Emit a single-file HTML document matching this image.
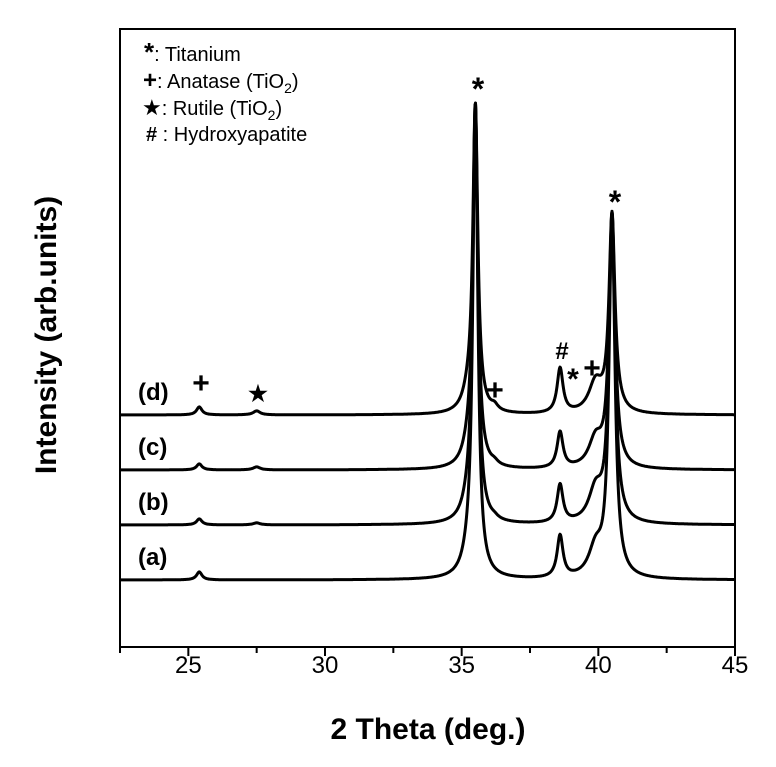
<!DOCTYPE html>
<html><head><meta charset="utf-8"><style>
body{margin:0;background:#fff;}
svg{display:block;font-family:"Liberation Sans",Arial,sans-serif;}
</style></head><body>
<svg id="chart" width="776" height="767" viewBox="0 0 776 767" xmlns="http://www.w3.org/2000/svg">
<rect x="120" y="29" width="615" height="618" fill="none" stroke="#000" stroke-width="2"/>
<g id="ticks"></g>
<g id="traces"></g>
<g font-size="20" fill="#000">
<text x="144" y="61"><tspan font-weight="bold" font-size="26">*</tspan>: Titanium</text>
<text x="143" y="88"><tspan font-weight="bold" font-size="24">+</tspan>: Anatase (TiO<tspan font-size="14" dy="5">2</tspan><tspan dy="-5">)</tspan></text>
<text x="142" y="115"><tspan font-size="22">★</tspan>: Rutile (TiO<tspan font-size="14" dy="5">2</tspan><tspan dy="-5">)</tspan></text>
<text x="146" y="141"><tspan font-weight="bold">#</tspan>   : Hydroxyapatite</text>
</g>
<g font-weight="bold" font-size="30" text-anchor="middle">
<text x="478" y="100" font-size="32">*</text>
<text x="615" y="213" font-size="32">*</text>
<text x="562" y="359" font-size="24">#</text>
<text x="573" y="389">*</text>
<text x="592" y="378">+</text>
<text x="495" y="400">+</text>
<text x="201" y="393">+</text>
<text x="258" y="401" font-size="22">★</text>
</g>
<g font-weight="bold" font-size="24">
<text x="138" y="565">(a)</text>
<text x="138" y="510">(b)</text>
<text x="138" y="455">(c)</text>
<text x="138" y="400">(d)</text>
</g>
<text x="428" y="739" font-size="30" font-weight="bold" text-anchor="middle">2 Theta (deg.)</text>
<text transform="translate(56,335) rotate(-90)" font-size="30" font-weight="bold" text-anchor="middle">Intensity (arb.units)</text>
</svg>
<script>
const xTicks=[25,30,35,40,45];
const xMinor=[22.5,27.5,32.5,37.5,42.5];
const seriesNames=["a","b","c","d"];
const seriesOffsets=[0,55,110,165];
const peakPos=[25.4,27.5,35.25,35.5,36.2,38.6,39.9,40.5];
const heightsA=[8,0,15,470,0,42,28,362];
const heightsB=[6,2,15,415,2,38,32,307];
const heightsC=[6,3,15,360,3,36,28,252];
const heightsD=[8,4,15,305,5,45,30,197];
const peakWidths=[0.12,0.15,0.25,0.11,0.15,0.13,0.3,0.13];
const allHeights=[heightsA,heightsB,heightsC,heightsD];
const X0=22.5,X1=45,PX0=120,PX1=735,BASE=580;
const sx=v=>PX0+(v-X0)/(X1-X0)*(PX1-PX0);
const sy=v=>BASE-v;
const NS="http://www.w3.org/2000/svg";
const tg=document.getElementById('ticks');
xTicks.forEach(t=>{
 const l=document.createElementNS(NS,'line');
 l.setAttribute('x1',sx(t));l.setAttribute('x2',sx(t));l.setAttribute('y1',647);l.setAttribute('y2',656);
 l.setAttribute('stroke','#000');l.setAttribute('stroke-width','2');
 
 
 tg.appendChild(l);
 const tx=document.createElementNS(NS,'text');
 tx.setAttribute('x',sx(t));tx.setAttribute('y',673);tx.setAttribute('font-size','24');tx.setAttribute('text-anchor','middle');
 tx.textContent=t;
 
 
 tg.appendChild(tx);
});
xMinor.forEach(t=>{
 const l=document.createElementNS(NS,'line');
 l.setAttribute('x1',sx(t));l.setAttribute('x2',sx(t));l.setAttribute('y1',647);l.setAttribute('y2',653);
 l.setAttribute('stroke','#000');l.setAttribute('stroke-width','2');
 
 
 tg.appendChild(l);
});
const trg=document.getElementById('traces');
allHeights.forEach((hs,si)=>{
 let d='';
 for(let px=PX0;px<=PX1;px+=0.5){
  const x=X0+(px-PX0)/(PX1-PX0)*(X1-X0);
  let v=seriesOffsets[si];
  peakPos.forEach((p,k)=>{const w=peakWidths[k];const u=(x-p)/w;v+=hs[k]/(1+u*u);});
  d+=(d?'L':'M')+px.toFixed(1)+' '+sy(v).toFixed(1);
 }
 const path=document.createElementNS(NS,'path');
 path.setAttribute('d',d);path.setAttribute('fill','none');path.setAttribute('stroke','#000');path.setAttribute('stroke-width','3');
 path.setAttribute('stroke-linejoin','round');
 
 
 trg.appendChild(path);
});
</script>
</body></html>
